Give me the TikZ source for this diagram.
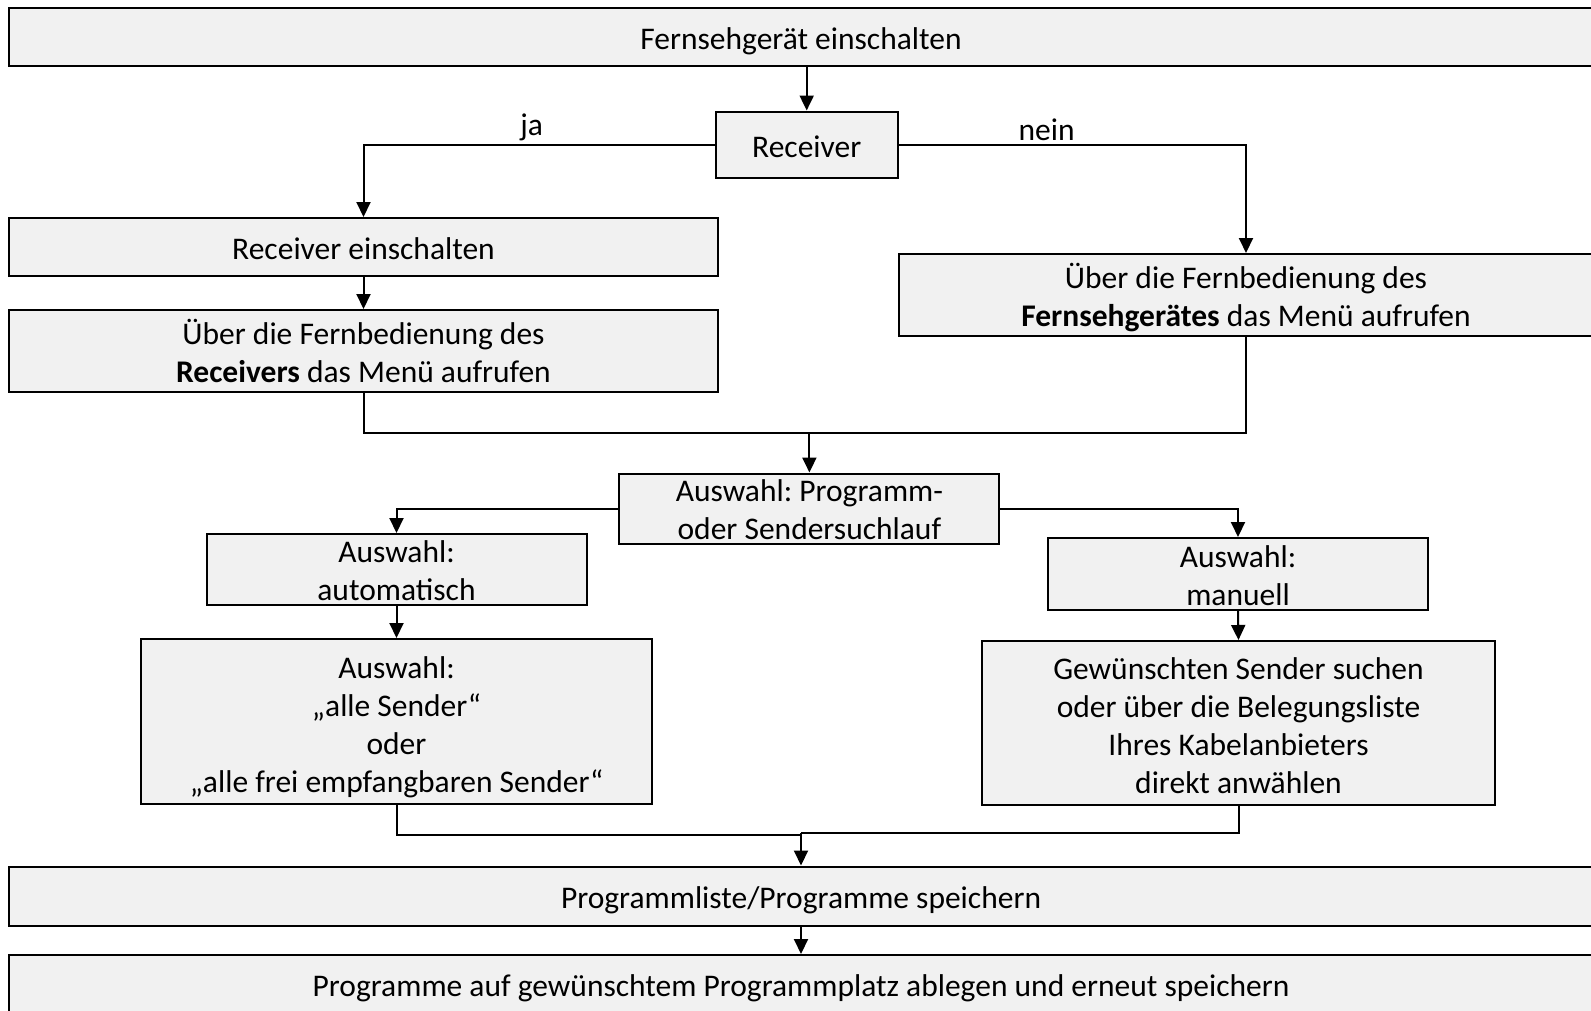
\documentclass[tikz,border=0pt]{standalone}
\usepackage{fontspec}
\setmainfont{Carlito}
\frenchspacing
\usetikzlibrary{arrows.meta}
\definecolor{boxgray}{HTML}{F1F1F1}
\newcommand\topstrut{\rule{0pt}{33.4pt}}
\newcommand\botstrut{\rule[-8pt]{0pt}{8pt}}
\newcommand\firstline[1]{\rule{0pt}{#1}}
\newcommand\lowfirst[1]{\raisebox{-4.3pt}[24pt][0pt]{#1}}
\newcommand\lowlast[1]{\raisebox{-4.3pt}[0pt][0pt]{#1}}
\begin{document}
\begin{tikzpicture}[x=1pt,y=-1pt,
  box/.style={draw=black, fill=boxgray, line width=2pt, inner sep=0pt, align=center,
    font=\fontsize{31.5}{38}\selectfont,
    execute at begin node=\topstrut, execute at end node=\botstrut},
  tight/.style={execute at begin node={}, execute at end node={}},
  lbl/.style={inner sep=0pt, font=\fontsize{31.5}{38}\selectfont},
  conn/.style={line width=2pt, draw=black},
  arr/.style={conn, -{Triangle[length=15pt,width=14pt]}}]
\useasboundingbox (0,0) rectangle (1591,1010);
\clip (0,0) rectangle (1591,1010);

\node[box, minimum width=1584pt, minimum height=58pt] (n1) at (801,37) {Fernsehgerät einschalten};
\node[box, minimum width=182pt, minimum height=66pt] (rec) at (806.7,144.5) {Receiver};
\node[box, minimum width=709pt, minimum height=58pt] (rein) at (363.5,247) {Receiver einschalten};
\node[box, minimum width=709pt, minimum height=82pt] (menuR) at (363.5,351) {\firstline{33pt}Über die Fernbedienung des\\\textbf{Receivers} das Menü aufrufen};
\node[box, minimum width=694pt, minimum height=82pt] (menuF) at (1246,295) {\firstline{33pt}Über die Fernbedienung des\\\textbf{Fernsehgerätes} das Menü aufrufen};
\node[box, tight, minimum width=380pt, minimum height=70pt] (ausw) at (809.4,508.5) {\lowfirst{Auswahl: Programm-}\\\lowlast{oder Sendersuchlauf}};
\node[box, tight, minimum width=380pt, minimum height=71pt] (auto) at (396.5,569.5) {\lowfirst{Auswahl:}\\\lowlast{automatisch}};
\node[box, tight, minimum width=380pt, minimum height=72pt] (man) at (1238,574) {\lowfirst{Auswahl:}\\\lowlast{manuell}};
\node[box, minimum width=511pt, minimum height=165pt] (alle) at (396.5,721.5) {\firstline{35pt}Auswahl:\\„alle Sender“\\oder\\„alle frei empfangbaren Sender“};
\node[box, minimum width=513pt, minimum height=164pt] (gew) at (1238.5,723) {\firstline{35pt}Gewünschten Sender suchen\\oder über die Belegungsliste\\Ihres Kabelanbieters\\direkt anwählen};
\node[box, minimum width=1584pt, minimum height=59pt] (pls) at (801,896) {Programmliste/Programme speichern};
\node[box, minimum width=1584pt, minimum height=58pt] (last) at (801,984) {Programme auf gewünschtem Programmplatz ablegen und erneut speichern};

\node[lbl, anchor=base] (ja) at (531.7,135) {ja};
\node[lbl, anchor=base] (nein) at (1046.7,140.7) {nein};

\draw[arr] (n1.south -| rec.north) -- (rec.north);
\draw[arr] (rec.west) -| (rein.north);
\draw[arr] (rec.east) -| (menuF.north);
\draw[arr] (rein.south) -- (menuR.north);

\coordinate (j1) at (809.4,433);
\draw[conn] (menuR.south) |- (j1);
\draw[conn] (menuF.south) |- (j1);
\draw[arr] (j1) -- (ausw.north);

\draw[arr] (ausw.west) -| (auto.north);
\draw[arr] (ausw.east) -| (man.north);
\draw[arr] (auto.south) -- (alle.north);
\draw[arr] (man.south) -- (gew.north);

\coordinate (j2l) at (801,835);
\coordinate (j2r) at (801,833.3);
\draw[conn] (alle.south) |- (j2l);
\draw[conn] (gew.south) |- (j2r);
\draw[arr] (j2r) -- (j2r |- pls.north);
\draw[arr] (pls.south -| j2r) -- (j2r |- last.north);
\end{tikzpicture}
\end{document}
